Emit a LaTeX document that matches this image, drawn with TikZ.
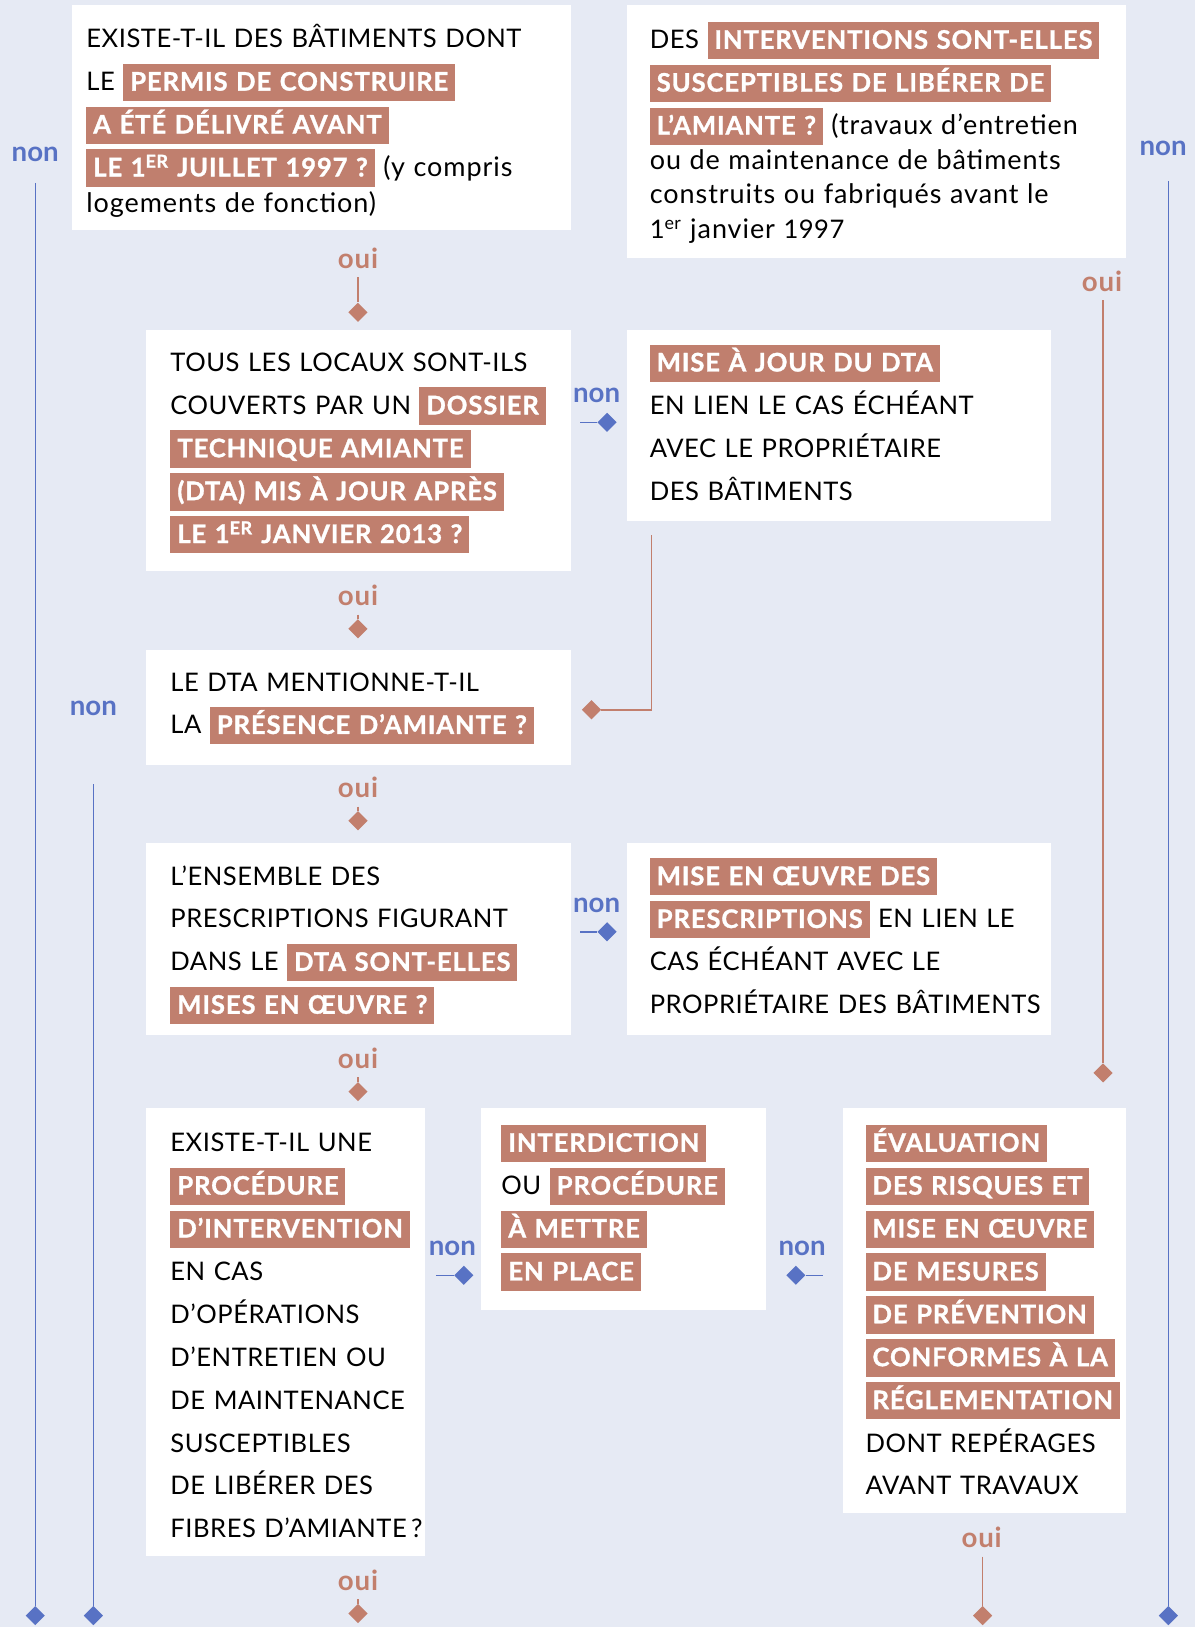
\documentclass[tikz,border=0pt]{standalone}
\usepackage{fontspec}
\setmainfont{Lato}
\usetikzlibrary{shapes.geometric}
\definecolor{bgc}{HTML}{E6EAF4}
\definecolor{hlc}{HTML}{C07F6E}
\definecolor{nonc}{HTML}{5872C4}
\definecolor{ouic}{HTML}{C27F6D}

% salmon highlight behind bold white words
\newcommand\hl[1]{{\setlength\fboxsep{0pt}\colorbox{hlc}{\rule[-7.5pt]{0pt}{27pt}\hspace{5pt}\textcolor{white}{\bfseries\addfontfeatures{LetterSpace=3.5,FakeBold=1.2}#1}\hspace{5pt}}}}
% wider setting for running lowercase text
\newcommand\lc{\fontsize{19.5}{31}\selectfont\addfontfeatures{LetterSpace=3.5}}
\newcommand\ordsup[1]{\textsuperscript{#1}}

\newcommand\panel[5]{\node[panel, minimum width={(#4-#2)*0.75pt}, minimum height={(#5-#3)*0.75pt}] (#1) at (#2,#3) {};}

\begin{document}
\begin{tikzpicture}[x=0.75pt,y=-0.75pt,
  panel/.style={anchor=north west, fill=white, inner sep=0, outer sep=0},
  txt/.style={anchor=base west, inner sep=0, text width=350pt, align=left,
    font=\fontsize{18.5}{31}\selectfont\addfontfeatures{LetterSpace=2}},
  nonlbl/.style={inner sep=0, text=nonc, font=\fontsize{20}{22}\selectfont\bfseries},
  ouilbl/.style={inner sep=0, text=ouic, font=\fontsize{20}{22}\selectfont\bfseries\addfontfeatures{LetterSpace=3}},
  dia/.style={shape=diamond, inner sep=0, minimum width=14pt, minimum height=14pt},
  bdia/.style={dia, fill=nonc},
  sdia/.style={dia, fill=ouic},
  bline/.style={draw=nonc, line width=1.1pt},
  sline/.style={draw=ouic, line width=1.1pt},
]
\fill[bgc] (0,0) rectangle (1152,1568);
\useasboundingbox (0,0) rectangle (1152,1568);

% white panels
\panel{A}{69}{5}{550}{222}
\panel{B}{604}{5}{1085}{249}
\panel{C}{141}{318}{550}{550}
\panel{D}{604}{318}{1013}{502}
\panel{E}{141}{626}{550}{737}
\panel{F}{141}{812}{550}{997}
\panel{G}{604}{812}{1013}{997}
\panel{H}{141}{1068}{410}{1500}
\panel{I}{464}{1068}{738}{1262}
\panel{J}{812}{1068}{1085}{1458}

% panel texts
\node[txt] (tA) at (83,46) {EXISTE-T-IL DES BÂTIMENTS DONT\\
LE \hl{PERMIS DE CONSTRUIRE}\\
\hl{A ÉTÉ DÉLIVRÉ AVANT}\\
\hl{LE 1\ordsup{ER} JUILLET 1997 ?} {\lc (y compris}\\[-5.25pt]
{\lc logements de fonction)}};

\node[txt] (tB) at (626,47) {DES \hl{INTERVENTIONS SONT-ELLES}\\
\hl{SUSCEPTIBLES DE LIBÉRER DE}\\
\hl{L’AMIANTE ?} {\lc (travaux d’entretien}\\[-6pt]
{\lc ou de maintenance de bâtiments}\\[-6pt]
{\lc construits ou fabriqués avant le}\\[-6pt]
1\ordsup{er} {\lc janvier} 1997};

\node[txt] (tC) at (164,358) {TOUS LES LOCAUX SONT-ILS\\
COUVERTS PAR UN \hl{DOSSIER}\\
\hl{TECHNIQUE AMIANTE}\\
\hl{(DTA) MIS À JOUR APRÈS}\\
\hl{LE 1\ordsup{ER} JANVIER 2013 ?}};

\node[txt] (tD) at (626,358) {\hl{MISE À JOUR DU DTA}\\
EN LIEN LE CAS ÉCHÉANT\\
AVEC LE PROPRIÉTAIRE\\
DES BÂTIMENTS};

\node[txt] (tE) at (164,666) {LE DTA MENTIONNE-T-IL\\
LA \hl{PRÉSENCE D’AMIANTE ?}};

\node[txt] (tF) at (164,853) {L’ENSEMBLE DES\\
PRESCRIPTIONS FIGURANT\\
DANS LE \hl{DTA SONT-ELLES}\\
\hl{MISES EN ŒUVRE ?}};

\node[txt] (tG) at (626,853) {\hl{MISE EN ŒUVRE DES}\\
\hl{PRESCRIPTIONS} EN LIEN LE\\
CAS ÉCHÉANT AVEC LE\\
PROPRIÉTAIRE DES BÂTIMENTS};

\node[txt] (tH) at (164,1110) {EXISTE-T-IL UNE\\
\hl{PROCÉDURE}\\
\hl{D’INTERVENTION}\\
EN CAS\\
D’OPÉRATIONS\\
D’ENTRETIEN OU\\
DE MAINTENANCE\\
SUSCEPTIBLES\\
DE LIBÉRER DES\\
FIBRES D’AMIANTE\,?};

\node[txt] (tI) at (483,1110) {\hl{INTERDICTION}\\
OU \hl{PROCÉDURE}\\
\hl{À METTRE}\\
\hl{EN PLACE}};

\node[txt] (tJ) at (834,1110) {\hl{ÉVALUATION}\\
\hl{DES RISQUES ET}\\
\hl{MISE EN ŒUVRE}\\
\hl{DE MESURES}\\
\hl{DE PRÉVENTION}\\
\hl{CONFORMES À LA}\\
\hl{RÉGLEMENTATION}\\
DONT REPÉRAGES\\
AVANT TRAVAUX};

% answer labels
\node[nonlbl] (nL) at (34,149) {non};
\node[nonlbl] (nE) at (90,683) {non};
\node[nonlbl] (nR) at (1121,143) {non};
\node[nonlbl] (nCD) at (575,381) {non};
\node[nonlbl] (nFG) at (575,873) {non};
\node[nonlbl] (nHI) at (436,1203) {non};
\node[nonlbl] (nJI) at (773,1203) {non};
\node[ouilbl] (oA) at (345,249) {oui};
\node[ouilbl] (oB) at (1062,271) {oui};
\node[ouilbl] (oC) at (345,574) {oui};
\node[ouilbl] (oE) at (345,759) {oui};
\node[ouilbl] (oF) at (345,1020) {oui};
\node[ouilbl] (oJ) at (946,1482) {oui};
\node[ouilbl] (oH) at (345,1523) {oui};

% arrow ends
\node[bdia] (dL) at (34,1557) {};
\node[bdia] (dE) at (90,1557) {};
\node[bdia] (dR) at (1126,1557) {};
\node[bdia] (dCD) at (585,407) {};
\node[bdia] (dFG) at (585,898) {};
\node[bdia] (dHI) at (447,1229) {};
\node[bdia] (dJI) at (767,1229) {};
\node[sdia] (dA) at (345,301) {};
\node[sdia] (dB) at (1063,1034) {};
\node[sdia] (dC) at (345,606) {};
\node[sdia] (dE2) at (345,791) {};
\node[sdia] (dF) at (345,1052) {};
\node[sdia] (dJ) at (947,1557) {};
\node[sdia] (dH) at (345,1555) {};
\node[sdia] (dDE) at (570,684) {};
\coordinate (cDE) at (628,516);
\coordinate (cJI) at (793,1229);

% connectors
\draw[bline, shorten <=15pt] (nL.south) -- (dL);
\draw[bline, shorten <=49pt] (nE.south) -- (dE);
\draw[bline, shorten <=18pt] (nR.south -| dR) -- (dR);
\draw[bline, shorten <=6.75pt] (C.east |- dCD) -- (dCD);
\draw[bline, shorten <=6.75pt] (F.east |- dFG) -- (dFG);
\draw[bline, shorten <=7.5pt] (H.east |- dHI) -- (dHI);
\draw[bline] (cJI) -- (dJI);
\draw[sline, shorten <=6pt] (oA) -- (dA);
\draw[sline, shorten <=6pt] (oB.south -| dB) -- (dB);
\draw[sline, shorten <=6pt] (oC) -- (dC);
\draw[sline, shorten <=6pt] (oE) -- (dE2);
\draw[sline, shorten <=6pt] (oF) -- (dF);
\draw[sline, shorten <=6pt] (oJ.south -| dJ) -- (dJ);
\draw[sline, shorten <=6pt] (oH) -- (dH);
\draw[sline] (cDE) |- (dDE);
\end{tikzpicture}
\end{document}
